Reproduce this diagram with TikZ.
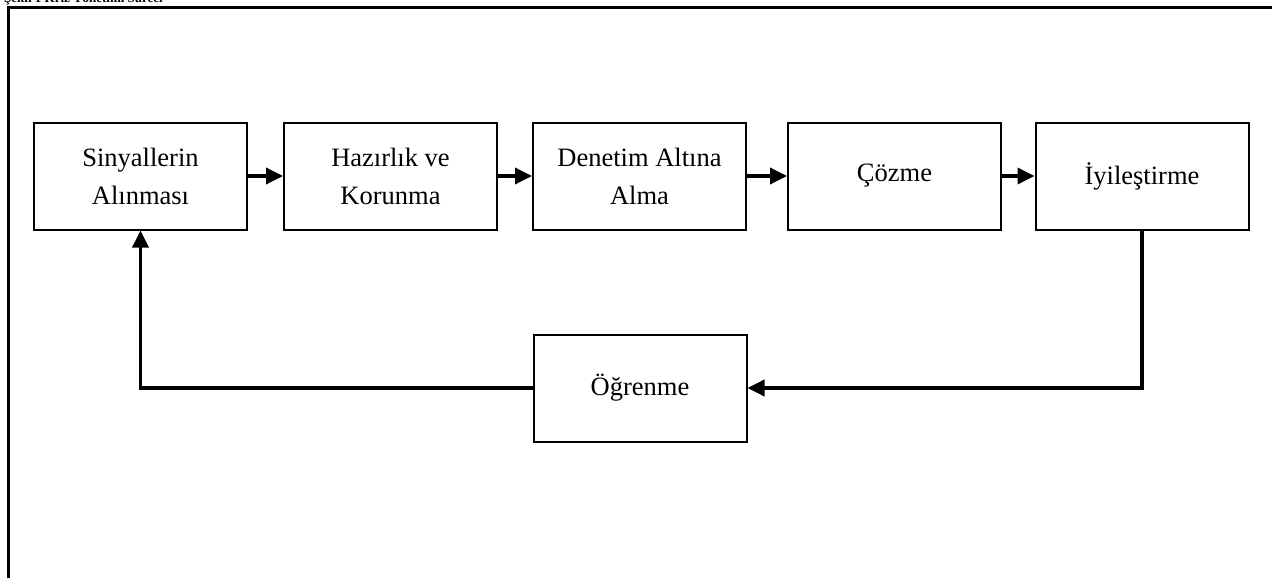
\documentclass[tikz,border=0pt]{standalone}
\usepackage{fontspec}
\setmainfont{Liberation Serif}
\usetikzlibrary{arrows.meta}
\begin{document}
\begin{tikzpicture}[x=1pt,y=-1pt,
 box/.style={draw,line width=2pt,minimum width=213pt,minimum height=107pt,inner sep=0pt,align=center,font=\fontsize{26.5}{38}\selectfont},
 conn/.style={line width=3.5pt,-{Triangle[length=17pt,width=16pt]}},
 frame/.style={line width=3pt}]
\useasboundingbox (0,0) rectangle (1272,578);
\clip (0,0) rectangle (1272,578);
\node[anchor=base west,inner sep=0pt,font=\bfseries\fontsize{13}{15}\selectfont] (title) at (4,2.5) {Şekil 1 Kriz Yönetimi Süreci};
\coordinate (fb) at (8,585);
\coordinate (fc) at (8,8);
\coordinate (fr) at (1280,8);
\draw[frame] (fb) -- (fc) -- (fr);
\node[box] (s1) at (140.5,176) {Sinyallerin\\Alınması};
\node[box] (s2) at (390.5,176) {Hazırlık ve\\Korunma};
\node[box] (s3) at (639.5,176) {Denetim Altına\\Alma};
\node[box] (s4) at (894.5,176) {Çözme};
\node[box] (s5) at (1142,176) {İyileştirme};
\node[box] (og) at (640,388) {Öğrenme};
\draw[conn] (s1) -- (s2);
\draw[conn] (s2) -- (s3);
\draw[conn] (s3) -- (s4);
\draw[conn] (s4) -- (s5);
\draw[conn] (s5.south) |- (og.east);
\draw[conn] (og.west) -| (s1.south);
\end{tikzpicture}
\end{document}
